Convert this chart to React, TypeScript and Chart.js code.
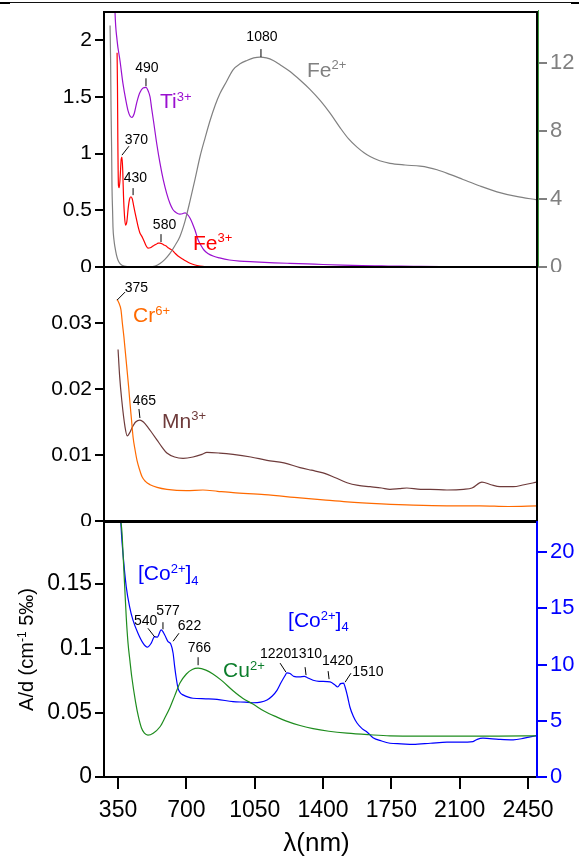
import React, { useEffect, useRef } from "react";
import { Chart, registerables } from "chart.js";

Chart.register(...registerables);

const FONT = "'Liberation Sans', Arial, Helvetica, sans-serif";

// ---------- axes ----------
const xMin = 278;
const xMax = 2496;
const xTickValues = [350, 700, 1050, 1400, 1750, 2100, 2450];
const p1LeftTicks = [0, 0.5, 1, 1.5, 2];
const p1RightTicks = [0, 4, 8, 12];
const p2LeftTicks = [0, 0.01, 0.02, 0.03];
const p3LeftTicks = [0, 0.05, 0.1, 0.15];
const p3RightTicks = [0, 5, 10, 15, 20];

// ---------- panel 1 ----------
const tiNm = [330, 334, 345, 360, 375, 390, 401, 412, 421, 432, 447, 462, 478, 493, 505, 514, 522, 531, 548, 565, 582, 599, 616, 630, 642, 655, 667, 680, 693, 705, 719, 732, 744, 760, 775, 790, 810, 840, 870, 920, 973, 1050, 1150, 1231, 1320, 1400, 1500, 1600, 1700, 1800, 1900, 2000];
const tiAbs = [2.6, 2.27, 2.0, 1.82, 1.62, 1.47, 1.38, 1.33, 1.32, 1.35, 1.46, 1.54, 1.58, 1.585, 1.55, 1.5, 1.4, 1.295, 1.09, 0.914, 0.766, 0.65, 0.56, 0.51, 0.487, 0.472, 0.467, 0.47, 0.478, 0.465, 0.43, 0.38, 0.326, 0.24, 0.19, 0.15, 0.12, 0.095, 0.08, 0.062, 0.052, 0.045, 0.037, 0.032, 0.027, 0.022, 0.017, 0.013, 0.01, 0.007, 0.005, 0.003];

const fe3Nm = [345, 347, 349, 352, 356, 361, 366, 370, 374, 378, 383, 388, 395, 402, 409, 416, 423, 430, 437, 447, 455, 462, 472, 483, 493, 503, 515, 525, 534, 545, 555, 565, 575, 585, 596, 606, 616, 626, 640, 657, 670, 683, 700, 719, 740, 770, 800, 830];
const fe3Abs = [1.89, 1.6, 1.1, 0.72, 0.7, 0.8, 0.95, 0.97, 0.85, 0.62, 0.45, 0.37, 0.4, 0.52, 0.6, 0.62, 0.6, 0.54, 0.48, 0.4, 0.34, 0.3, 0.27, 0.23, 0.19, 0.167, 0.17, 0.18, 0.19, 0.2, 0.21, 0.21, 0.205, 0.195, 0.185, 0.17, 0.16, 0.15, 0.125, 0.097, 0.082, 0.068, 0.05, 0.033, 0.02, 0.008, 0.002, 0];

const fe2Nm = [309, 312, 314, 317, 319, 322, 324, 329, 334, 342, 350, 360, 370, 400, 450, 514, 540, 565, 590, 616, 641, 667, 693, 719, 745, 770, 796, 821, 847, 872, 905, 939, 975, 1010, 1045, 1077, 1110, 1145, 1180, 1231, 1282, 1333, 1385, 1436, 1487, 1530, 1574, 1610, 1641, 1690, 1743, 1820, 1897, 1940, 1984, 2050, 2117, 2200, 2291, 2390, 2496];
const fe2Abs = [14.2, 12.0, 9.4, 7.0, 4.7, 3.3, 2.35, 1.6, 1.18, 0.7, 0.4, 0.2, 0.1, 0.02, 0, 0, 0.05, 0.2, 0.45, 0.8, 1.25, 1.8, 2.7, 3.9, 5.2, 6.5, 7.6, 8.6, 9.5, 10.2, 10.9, 11.6, 11.95, 12.15, 12.3, 12.35, 12.3, 12.15, 11.9, 11.5, 11.0, 10.45, 9.8, 9.05, 8.2, 7.55, 7.05, 6.72, 6.5, 6.25, 6.1, 6.0, 5.93, 5.85, 5.72, 5.45, 5.15, 4.78, 4.42, 4.15, 3.95];

// ---------- panel 2 ----------
const crNm = [345, 355, 365, 372, 380, 388, 396, 404, 411, 419, 427, 437, 447, 460, 473, 490, 514, 550, 600, 700, 785, 860, 939, 1100, 1282, 1400, 1523, 1700, 1861, 2035, 2204, 2350, 2496];
const crAbs = [0.0336, 0.033, 0.032, 0.03, 0.0279, 0.0254, 0.0229, 0.0204, 0.0179, 0.0153, 0.0127, 0.0108, 0.0092, 0.0078, 0.0067, 0.006, 0.0055, 0.0051, 0.0048, 0.0046, 0.0047, 0.0045, 0.0043, 0.004, 0.0035, 0.0032, 0.0029, 0.0026, 0.0024, 0.0023, 0.0023, 0.0022, 0.0023];

const mnNm = [350, 358, 369, 386, 397, 410, 421, 440, 462, 480, 503, 525, 549, 575, 600, 640, 683, 734, 780, 805, 870, 939, 1030, 1113, 1200, 1282, 1340, 1400, 1460, 1523, 1580, 1641, 1700, 1743, 1790, 1829, 1900, 1950, 2035, 2120, 2163, 2214, 2260, 2306, 2374, 2430, 2496];
const mnAbs = [0.026, 0.022, 0.0183, 0.0142, 0.0129, 0.0134, 0.0141, 0.015, 0.0153, 0.015, 0.0142, 0.0133, 0.0123, 0.0112, 0.0103, 0.0097, 0.0095, 0.0097, 0.0101, 0.0104, 0.0103, 0.0101, 0.0097, 0.0092, 0.0088, 0.0081, 0.0077, 0.0073, 0.0066, 0.0058, 0.0054, 0.0052, 0.005, 0.0048, 0.0049, 0.005, 0.0048, 0.0048, 0.0047, 0.0048, 0.005, 0.0059, 0.0055, 0.0052, 0.0052, 0.0055, 0.0059];

// ---------- panel 3 ----------
const cuNm = [363, 370, 377, 384, 392, 401, 411, 420, 440, 454, 470, 485, 503, 530, 565, 590, 616, 640, 667, 700, 730, 760, 800, 836, 880, 939, 990, 1041, 1100, 1164, 1220, 1282, 1349, 1430, 1523, 1640, 1743, 1900, 2100, 2300, 2496];
const cuAbs = [0.2, 0.19, 0.169, 0.148, 0.124, 0.104, 0.09, 0.078, 0.058, 0.047, 0.038, 0.034, 0.0325, 0.034, 0.039, 0.046, 0.054, 0.063, 0.073, 0.08, 0.0835, 0.0845, 0.083, 0.08, 0.075, 0.067, 0.061, 0.0566, 0.051, 0.0465, 0.043, 0.04, 0.0375, 0.0355, 0.034, 0.0328, 0.032, 0.0318, 0.0318, 0.0318, 0.032];

const coNm = [363, 368, 375, 392, 409, 426, 452, 478, 500, 520, 537, 551, 571, 589, 606, 620, 632, 640, 648, 657, 670, 683, 710, 734, 800, 857, 939, 1000, 1041, 1080, 1113, 1140, 1164, 1185, 1205, 1215, 1231, 1250, 1280, 1305, 1318, 1349, 1380, 1400, 1436, 1460, 1475, 1490, 1505, 1513, 1525, 1538, 1555, 1574, 1600, 1625, 1656, 1700, 1743, 1800, 1861, 1950, 2035, 2100, 2168, 2190, 2219, 2300, 2374, 2430, 2496];
const coAbs = [23.0, 21.5, 19.9, 16.9, 15.15, 13.97, 12.78, 11.9, 11.54, 11.9, 12.48, 12.43, 13.08, 12.63, 12.04, 11.83, 11.0, 9.81, 8.8, 7.9, 7.45, 7.3, 7.1, 7.0, 6.95, 6.9, 6.7, 6.65, 6.6, 6.65, 6.85, 7.2, 7.7, 8.4, 9.0, 9.25, 9.2, 8.95, 8.9, 8.95, 8.85, 8.6, 8.5, 8.5, 8.45, 8.2, 8.0, 8.3, 8.35, 8.0, 7.2, 6.2, 5.4, 4.8, 4.3, 4.0, 3.5, 3.2, 3.0, 2.95, 2.9, 3.0, 3.1, 3.1, 3.15, 3.35, 3.45, 3.35, 3.3, 3.45, 3.7];

// ---------- annotations (data coordinates) ----------
const p1Peaks = [
  { text: "490", axis: "y", x: 498, y: 1.753, from: [493, 1.665], to: [493, 1.595] },
  { text: "370", axis: "y", x: 444, y: 1.119, from: [406, 1.066], to: [370, 0.987] },
  { text: "430", axis: "y", x: 439, y: 0.784, from: [427, 0.696], to: [427, 0.634] },
  { text: "580", axis: "y", x: 588, y: 0.37, from: [570, 0.29], to: [570, 0.22] },
  { text: "1080", axis: "yr", x: 1087, y: 13.5, from: [1082, 12.82], to: [1082, 12.35] },
];
const p2Peaks = [
  { text: "375", axis: "y", x: 444, y: 0.03523, from: [386, 0.0347], to: [345, 0.03348] },
  { text: "465", axis: "y", x: 485, y: 0.01818, from: [457, 0.01697], to: [462, 0.01561] },
];
const p3Peaks = [
  { text: "540", axis: "y", x: 491, y: 0.1209, from: [503, 0.1155], to: [539, 0.1085] },
  { text: "577", axis: "y", x: 606, y: 0.1287, from: [580, 0.1202], to: [580, 0.1147] },
  { text: "622", axis: "y", x: 716, y: 0.1174, from: [662, 0.1116], to: [632, 0.1054] },
  { text: "766", axis: "y", x: 767, y: 0.1004, from: [760, 0.093], to: [760, 0.0868] },
  { text: "1220", axis: "y", x: 1157, y: 0.0953, from: [1180, 0.0884], to: [1210, 0.0814] },
  { text: "1310", axis: "y", x: 1315, y: 0.0953, from: [1308, 0.0853], to: [1313, 0.0791] },
  { text: "1420", axis: "y", x: 1474, y: 0.0899, from: [1426, 0.0822], to: [1431, 0.076] },
  { text: "1510", axis: "y", x: 1630, y: 0.0814, from: [1543, 0.0806], to: [1513, 0.0736] },
];

const TI = "#9a10d0";
const FE3 = "#ff0000";
const FE2 = "#808080";
const CR = "#ff6a00";
const MN = "#6e3b3b";
const CU_LINE = "#1e8c1e";
const CU_TEXT = "#0b7d2b";
const CO = "#0000ff";

const p1Ions = [
  { text: "Ti^{3+}", axis: "y", x: 565, y: 1.401, color: TI },
  { text: "Fe^{3+}", axis: "y", x: 734, y: 0.15, color: FE3 },
  { text: "Fe^{2+}", axis: "yr", x: 1318, y: 11.18, color: FE2 },
];
const p2Ions = [
  { text: "Cr^{6+}", axis: "y", x: 427, y: 0.03015, color: CR },
  { text: "Mn^{3+}", axis: "y", x: 575, y: 0.01409, color: MN },
];
const p3Ions = [
  { text: "[Co^{2+}]_{4}", axis: "y", x: 452, y: 0.1527, color: CO },
  { text: "[Co^{2+}]_{4}", axis: "y", x: 1221, y: 0.1163, color: CO },
  { text: "Cu^{2+}", axis: "y", x: 888, y: 0.0775, color: CU_TEXT },
];

const xTitle = "λ(nm)";
const yTitle = "A/d (cm^{-1} 5‰)";

// ---------- helpers ----------
const pts = (xs: number[], ys: number[]) => xs.map((x, i) => ({ x, y: ys[i] }));

function richParts(str: string, size: number) {
  return str
    .split(/(\^\{[^}]*\}|_\{[^}]*\})/)
    .filter(Boolean)
    .map((p) => {
      if (p.startsWith("^{")) return { t: p.slice(2, -1), fs: Math.round(size * 0.62), dy: -size * 0.36 };
      if (p.startsWith("_{")) return { t: p.slice(2, -1), fs: Math.round(size * 0.62), dy: size * 0.2 };
      return { t: p, fs: size, dy: 0 };
    });
}

function richWidth(ctx: CanvasRenderingContext2D, str: string, size: number) {
  let w = 0;
  for (const p of richParts(str, size)) {
    ctx.font = `${p.fs}px ${FONT}`;
    w += ctx.measureText(p.t).width;
  }
  return w;
}

function drawRich(ctx: CanvasRenderingContext2D, str: string, x: number, y: number, size: number, color: string) {
  let cx = x;
  ctx.fillStyle = color;
  ctx.textAlign = "left";
  ctx.textBaseline = "alphabetic";
  for (const p of richParts(str, size)) {
    ctx.font = `${p.fs}px ${FONT}`;
    ctx.fillText(p.t, cx, y + p.dy);
    cx += ctx.measureText(p.t).width;
  }
}

function xScale(show: boolean) {
  return {
    type: "linear",
    min: xMin,
    max: xMax,
    display: show,
    afterBuildTicks: (s: any) => {
      s.ticks = xTickValues.map((v) => ({ value: v }));
    },
    afterFit: (s: any) => {
      if (show) s.height = 79;
      s.paddingLeft = 0;
      s.paddingRight = 0;
    },
    grid: { display: true, drawOnChartArea: false, drawTicks: true, tickLength: 12, color: "#000", lineWidth: 2 },
    border: { display: false },
    ticks: {
      autoSkip: false,
      maxRotation: 0,
      color: "#000",
      padding: 8,
      font: { size: 23, family: FONT },
      callback: (v: any) => String(v),
    },
  };
}

function yScale(position: string, max: number, ticks: number[], color: string, tickLen: number, width: number, fontSize: number) {
  return {
    type: "linear",
    position,
    min: 0,
    max,
    afterBuildTicks: (s: any) => {
      s.ticks = ticks.map((v) => ({ value: v }));
    },
    afterFit: (s: any) => {
      s.width = width;
      s.paddingTop = 0;
      s.paddingBottom = 0;
    },
    grid: { display: true, drawOnChartArea: false, drawTicks: true, tickLength: tickLen, color, lineWidth: 2 },
    border: { display: false },
    ticks: {
      color,
      padding: 3,
      font: { size: fontSize, family: FONT },
      callback: (v: any) => String(v),
    },
  };
}

function line(data: any[], color: string, axis: string) {
  return {
    data,
    borderColor: color,
    borderWidth: 1.2,
    pointRadius: 0,
    fill: false,
    cubicInterpolationMode: "monotone",
    yAxisID: axis,
  };
}

function decorPlugin(peaks: any[], ions: any[], rightColor: string, rightInner: string | null, titles: boolean) {
  return {
    id: "decor",
    afterDatasetsDraw(chart: any) {
      const { ctx, chartArea: a } = chart;
      ctx.save();
      ctx.lineWidth = 2;
      ctx.strokeStyle = "#000";
      ctx.beginPath();
      ctx.moveTo(a.right, a.top);
      ctx.lineTo(a.left, a.top);
      ctx.lineTo(a.left, a.bottom);
      ctx.lineTo(a.right, a.bottom);
      ctx.stroke();
      ctx.strokeStyle = rightColor;
      ctx.beginPath();
      ctx.moveTo(a.right, a.top - 1);
      ctx.lineTo(a.right, a.bottom + 1);
      ctx.stroke();
      if (rightInner) {
        ctx.lineWidth = 1;
        ctx.strokeStyle = rightInner;
        ctx.beginPath();
        ctx.moveTo(a.right + 1.5, a.top - 2);
        ctx.lineTo(a.right + 1.5, a.bottom);
        ctx.stroke();
      }
      ctx.restore();
    },
    afterDraw(chart: any) {
      const { ctx, chartArea: a } = chart;
      const xs = chart.scales.x;
      ctx.save();
      for (const p of peaks) {
        const ys = chart.scales[p.axis];
        ctx.strokeStyle = "#000";
        ctx.lineWidth = 1;
        ctx.beginPath();
        ctx.moveTo(xs.getPixelForValue(p.from[0]), ys.getPixelForValue(p.from[1]));
        ctx.lineTo(xs.getPixelForValue(p.to[0]), ys.getPixelForValue(p.to[1]));
        ctx.stroke();
        ctx.font = `14px ${FONT}`;
        ctx.fillStyle = "#000";
        ctx.textAlign = "center";
        ctx.textBaseline = "middle";
        ctx.fillText(p.text, xs.getPixelForValue(p.x), ys.getPixelForValue(p.y));
      }
      for (const l of ions) {
        const ys = chart.scales[l.axis];
        drawRich(ctx, l.text, xs.getPixelForValue(l.x), ys.getPixelForValue(l.y), 21, l.color);
      }
      if (titles) {
        ctx.font = `26px ${FONT}`;
        ctx.fillStyle = "#000";
        ctx.textAlign = "center";
        ctx.textBaseline = "alphabetic";
        ctx.fillText(xTitle, (a.left + a.right) / 2 - 4, a.bottom + 74);
        const size = 20;
        const w = richWidth(ctx, yTitle, size);
        ctx.save();
        ctx.translate(33, (a.top + a.bottom) / 2);
        ctx.rotate(-Math.PI / 2);
        drawRich(ctx, yTitle, -w / 2, 0, size, "#000");
        ctx.restore();
      }
      ctx.restore();
    },
  };
}

function baseOptions(padding: any, scales: any) {
  return {
    responsive: false,
    animation: false,
    events: [],
    layout: { padding },
    plugins: { legend: { display: false }, tooltip: { enabled: false } },
    scales,
  };
}

export default function App() {
  const c1 = useRef<HTMLCanvasElement>(null);
  const c2 = useRef<HTMLCanvasElement>(null);
  const c3 = useRef<HTMLCanvasElement>(null);

  useEffect(() => {
    const ch1 = new Chart(c1.current as any, {
      type: "line",
      data: {
        datasets: [
          line(pts(fe2Nm, fe2Abs), FE2, "yr"),
          line(pts(fe3Nm, fe3Abs), FE3, "y"),
          line(pts(tiNm, tiAbs), TI, "y"),
        ],
      },
      options: baseOptions(
        { top: 12, bottom: 5, left: 0, right: 0 },
        {
          x: xScale(false),
          y: yScale("left", 2.25, p1LeftTicks, "#000", 9, 104, 21),
          yr: yScale("right", 15, p1RightTicks, "#808080", 10, 42, 22),
        }
      ),
      plugins: [decorPlugin(p1Peaks, p1Ions, "#000", "#3c9a3c", false)],
    } as any);

    const ch2 = new Chart(c2.current as any, {
      type: "line",
      data: {
        datasets: [line(pts(crNm, crAbs), CR, "y"), line(pts(mnNm, mnAbs), MN, "y")],
      },
      options: baseOptions(
        { top: 7, bottom: 5, left: 0, right: 42 },
        {
          x: xScale(false),
          y: yScale("left", 0.0385, p2LeftTicks, "#000", 9, 104, 21),
        }
      ),
      plugins: [decorPlugin(p2Peaks, p2Ions, "#000", null, false)],
    } as any);

    const ch3 = new Chart(c3.current as any, {
      type: "line",
      data: {
        datasets: [line(pts(cuNm, cuAbs), CU_LINE, "y"), line(pts(coNm, coAbs), CO, "yr")],
      },
      options: baseOptions(
        { top: 7, bottom: 0, left: 0, right: 0 },
        {
          x: xScale(true),
          y: yScale("left", 0.198, p3LeftTicks, "#000", 9, 104, 23),
          yr: yScale("right", 22.67, p3RightTicks, "#0000ff", 10, 42, 22),
        }
      ),
      plugins: [decorPlugin(p3Peaks, p3Ions, "#0000ff", null, true)],
    } as any);

    return () => {
      ch1.destroy();
      ch2.destroy();
      ch3.destroy();
    };
  }, []);

  return (
    <div style={{ position: "absolute", left: 0, top: 0, width: 579, height: 856, background: "#fff", overflow: "hidden" }}>
      <div style={{ position: "absolute", left: 0, top: 2, width: 579, height: 1, background: "#111" }} />
      <div style={{ position: "absolute", left: 0, top: 2, width: 10, height: 2, background: "#000" }} />
      <div style={{ position: "absolute", left: 571, top: 2, width: 8, height: 2, background: "#000" }} />
      <canvas ref={c1} width={579} height={272} style={{ position: "absolute", left: 0, top: 0 }} />
      <canvas ref={c2} width={579} height={266} style={{ position: "absolute", left: 0, top: 260 }} />
      <canvas ref={c3} width={579} height={341} style={{ position: "absolute", left: 0, top: 515 }} />
    </div>
  );
}
